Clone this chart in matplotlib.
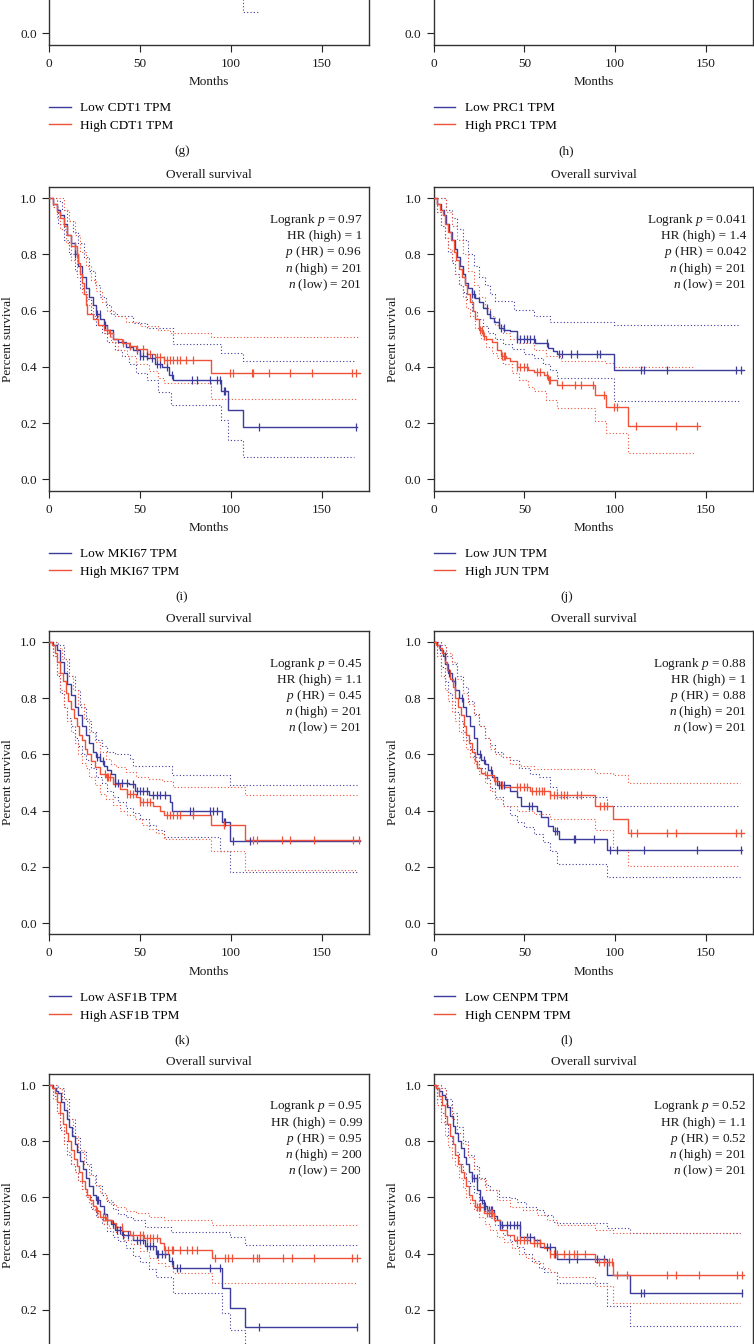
import numpy as np
import matplotlib
matplotlib.use("Agg")
import matplotlib.pyplot as plt
from matplotlib.lines import Line2D

plt.rcParams["font.family"] = ["Liberation Serif", "DejaVu Serif"]
plt.rcParams["mathtext.fontset"] = "custom"
plt.rcParams["mathtext.rm"] = "Liberation Serif"
plt.rcParams["mathtext.it"] = "Liberation Serif:italic"

BLUE = "#3d3b9b"
RED = "#ef5238"
FS = 9.5

# ---------------- data ----------------
genes = {"g": "CDT1", "h": "PRC1", "i": "MKI67", "j": "JUN", "k": "ASF1B", "l": "CENPM"}

# panel (g) - only the tail of the low-group lower CI is visible
g_low_lo_t = [98, 107, 116]
g_low_lo_s = [0.14, 0.075, 0.075]

# panel (i) MKI67
i_stats = ["0.97", "1", "0.96", "201", "201"]
i_low_t = [0, 2, 4, 6, 8, 10, 12, 14, 16, 18, 20, 22, 24, 26, 28, 30, 32, 35, 38, 42, 46, 50, 54, 58, 62, 66, 68, 94.5, 98.7, 107, 169.5]
i_low_s = [1.0, .98, .96, .94, .91, .87, .84, .80, .76, .72, .68, .65, .62, .59, .57, .55, .53, .50, .49, .47, .46, .44, .43, .41, .40, .37, .355, .313, .248, .186, .186]
i_high_t = [0, 2, 4, 6, 8, 10, 12, 15, 16, 17, 18, 19, 20, 21, 24, 27, 30, 33, 35, 40, 44, 48, 54, 58, 63, 89, 171]
i_high_s = [1.0, .98, .95, .93, .90, .87, .83, .80, .77, .73, .70, .66, .62, .59, .57, .55, .53, .52, .50, .485, .475, .465, .445, .435, .425, .38, .38]
i_low_cens = [14.2, 26.1, 27.9, 30.7, 48.2, 50, 51.8, 53.7, 56.4, 59.2, 61, 64.7, 67.5, 78.5, 81.3, 88.6, 92.3, 94.1, 96.3, 97, 115.3, 169.1]
i_high_cens = [14.2, 15.5, 31.6, 33.5, 40.8, 44.5, 48.2, 51.8, 55.5, 59.2, 61, 63, 64.7, 66.5, 68.4, 70.2, 72, 75.6, 79.4, 99.6, 101.5, 111.5, 112.5, 121.3, 132.7, 145, 166.7, 169.1]
i_low_up_t = [0, 4, 7, 10, 13, 16, 19, 22, 25, 28, 31, 34, 38, 46, 54, 68, 94.5, 107, 168]
i_low_up_s = [1.0, .99, .96, .92, .88, .84, .79, .74, .69, .65, .62, .59, .58, .555, .538, .48, .45, .42, .42]
i_low_lo_t = [0, 2, 5, 8, 11, 14, 17, 20, 23, 26, 29, 32, 36, 40, 44, 48, 54, 60, 67, 94.5, 98.7, 107, 168]
i_low_lo_s = [1.0, .97, .91, .85, .80, .74, .68, .64, .59, .55, .52, .49, .46, .44, .41, .38, .355, .31, .265, .21, .14, .08, .08]
i_high_up_t = [0, 4, 8, 11, 14, 17, 20, 23, 26, 29, 32, 36, 42, 50, 60, 66.5, 89, 170]
i_high_up_s = [1.0, 1.0, .96, .92, .87, .81, .76, .71, .67, .63, .60, .58, .56, .545, .53, .52, .507, .507]
i_high_lo_t = [0, 2, 4, 6, 9, 12, 15, 18, 21, 24, 27, 30, 34, 38, 43, 48, 55, 60, 63, 89, 170]
i_high_lo_s = [1.0, .97, .93, .89, .84, .78, .72, .66, .62, .58, .55, .52, .49, .46, .44, .41, .385, .36, .343, .287, .287]

# panel (j) JUN
j_stats = ["0.041", "1.4", "0.042", "201", "201"]
j_low_t = [0, 2, 4, 5.5, 7, 8.5, 10, 11.5, 13, 14.5, 16, 17.5, 19, 21, 23, 25, 27, 29.5, 31, 33, 36, 39, 42, 46, 56, 63, 66, 68, 99.3, 171]
j_low_s = [1.0, .98, .96, .94, .91, .88, .85, .82, .79, .76, .73, .70, .68, .66, .645, .63, .61, .59, .575, .56, .54, .53, .526, .50, .485, .467, .455, .445, .39, .39]
j_high_t = [0, 2, 3.5, 5, 6.5, 8, 9.5, 11, 12.5, 14, 15.5, 17, 18.5, 20, 21.5, 23, 25, 27, 29, 32, 35, 37, 40, 42, 46, 52, 55, 61, 63, 68, 89, 95, 107, 147]
j_high_s = [1.0, .98, .96, .94, .91, .88, .85, .81, .78, .75, .72, .69, .66, .63, .60, .57, .53, .51, .50, .49, .46, .44, .43, .42, .40, .39, .383, .37, .355, .337, .30, .257, .19, .19]
j_low_cens = [21.1, 22.4, 29.4, 30.9, 35.8, 37.1, 38.6, 46, 47.8, 49.6, 51.5, 53.3, 55.1, 62.5, 68.9, 70.8, 75.4, 79, 90, 91.9, 114, 115.8, 128.3, 166.4, 169.1]
j_high_cens = [25.7, 26.6, 27.6, 37.7, 38.6, 39.5, 46, 47.8, 49.6, 51.5, 57, 58.8, 62.5, 63.4, 64.3, 70.8, 78.1, 80.9, 87.9, 93.8, 99.3, 101, 111.2, 133.3, 145.2]
j_low_up_t = [0, 4, 7, 10, 13, 16, 19, 22, 25, 28, 31, 34, 44.5, 55, 64, 99.3, 169]
j_low_up_s = [1.0, 1.0, .96, .93, .89, .85, .80, .76, .72, .69, .66, .633, .603, .58, .56, .55, .55]
j_low_lo_t = [0, 2, 4, 6, 8, 10, 12, 14, 16, 18, 21, 24, 27, 30, 34, 38, 43, 50, 55, 60, 64, 68, 99.3, 169]
j_low_lo_s = [1.0, .95, .90, .86, .81, .77, .73, .69, .665, .64, .60, .57, .545, .52, .50, .48, .465, .445, .43, .41, .39, .36, .277, .277]
j_high_up_t = [0, 4, 7, 10, 13, 16, 19, 22, 25, 28, 31, 34, 38, 42, 46, 55, 62, 70, 95, 99.3, 144]
j_high_up_s = [1.0, 1.0, .95, .90, .85, .80, .74, .69, .65, .61, .58, .55, .52, .50, .485, .46, .44, .42, .413, .40, .40]
j_high_lo_t = [0, 2, 4, 6, 8, 10, 12, 14, 16, 18, 20, 23, 26, 29, 32, 35, 38, 43, 47, 52, 55, 62, 68, 89, 95, 107, 144]
j_high_lo_s = [1.0, .95, .90, .86, .82, .78, .73, .69, .65, .61, .58, .54, .50, .47, .45, .43, .41, .38, .355, .33, .313, .283, .254, .206, .164, .093, .093]

# panel (k) ASF1B
k_stats = ["0.45", "1.1", "0.45", "201", "201"]
k_low_t = [0, 2, 4, 6, 8, 10, 12, 14, 16, 18, 20, 22, 24, 26, 28, 30, 32, 34, 36, 44, 47, 55, 66.5, 67.5, 95, 99.3, 171]
k_low_s = [1.0, .99, .97, .93, .89, .85, .81, .77, .74, .70, .67, .64, .61, .59, .575, .56, .545, .53, .50, .495, .47, .454, .43, .40, .358, .293, .293]
k_high_t = [0, 1.5, 3, 4.5, 6, 7.5, 9, 10.5, 12, 13.5, 15, 16.5, 18, 19.5, 21, 23, 25, 28, 31, 35, 39, 42.6, 48, 50, 57, 61, 63, 89, 108, 171]
k_high_s = [1.0, .99, .96, .93, .89, .86, .82, .79, .76, .73, .70, .67, .65, .62, .60, .575, .555, .53, .52, .495, .477, .46, .448, .43, .418, .40, .386, .35, .295, .295]
k_low_cens = [26.1, 27.9, 29.8, 36.2, 38, 39.9, 42.6, 46.3, 48.2, 50, 51.8, 53.7, 57.4, 59.2, 61, 63.8, 77.6, 79.4, 88.6, 90.4, 92.3, 96, 96.9, 101.5, 110.7]
k_high_cens = [30.7, 31.6, 32.5, 33.5, 42.6, 44.5, 46.3, 50, 51.8, 53.7, 55.5, 64.7, 66.5, 68.4, 70.2, 72, 79.4, 96, 112.5, 114.3, 128.1, 132.7, 145.6, 167.6, 170.4]
k_low_up_t = [0, 5, 8, 11, 14, 17, 20, 23, 26, 29, 32, 36, 44.5, 46.3, 67.5, 99.3, 169.5]
k_low_up_s = [1.0, .99, .94, .88, .83, .77, .72, .68, .65, .63, .61, .60, .585, .56, .525, .49, .49]
k_low_lo_t = [0, 2, 4, 6, 8, 10, 12, 14, 16, 18, 20, 23, 26, 29, 32, 35, 38, 42, 46, 50, 55, 59, 63, 94, 99.3, 169.5]
k_low_lo_s = [1.0, .95, .88, .82, .77, .73, .70, .66, .63, .60, .58, .55, .52, .50, .47, .45, .43, .41, .39, .37, .35, .33, .305, .257, .18, .18]
k_high_up_t = [0, 4, 7, 10, 13, 16, 19, 22, 25, 28, 31, 34, 37, 42, 48, 55, 62, 68, 108, 169.5]
k_high_up_s = [1.0, .98, .94, .88, .83, .78, .73, .68, .645, .61, .585, .565, .555, .537, .52, .513, .507, .483, .457, .457]
k_high_lo_t = [0, 2, 4, 6, 8, 10, 12, 14, 16, 18, 20, 22, 25, 28, 31, 35, 39, 43, 47, 51, 55, 59, 63, 89, 108, 169.5]
k_high_lo_s = [1.0, .95, .89, .83, .77, .72, .68, .64, .60, .57, .55, .52, .49, .46, .44, .42, .40, .385, .37, .35, .335, .32, .30, .257, .19, .19]

# panel (l) CENPM
l_stats = ["0.88", "1", "0.88", "201", "201"]
l_low_t = [0, 2, 3.5, 5, 6.5, 8, 10, 12, 14, 16, 18, 20, 22, 24, 26, 28, 30, 32, 35, 42, 46, 48, 57, 59, 63, 66, 69, 95.5, 170]
l_low_s = [1.0, .99, .97, .95, .92, .89, .86, .83, .80, .77, .735, .70, .66, .60, .58, .565, .545, .52, .49, .47, .448, .418, .40, .376, .346, .329, .30, .26, .26]
l_high_t = [0, 1.5, 3, 4.5, 6, 7.5, 9, 10.5, 12, 13.5, 15, 16.5, 18, 19.5, 21, 22.5, 24, 26, 28, 33, 36, 38.6, 53, 64, 89, 99, 107, 171]
l_high_s = [1.0, .99, .98, .96, .93, .90, .87, .84, .80, .77, .74, .70, .67, .64, .61, .575, .55, .535, .525, .507, .49, .483, .47, .454, .418, .37, .319, .319]
l_low_cens = [6.4, 8.3, 11.9, 15.6, 25.7, 27.6, 31.3, 35.8, 37.1, 38.6, 52.4, 54.2, 67.1, 68, 77.2, 78.1, 88.2, 97.4, 101.1, 115.8, 145.2, 169.1]
l_high_cens = [29.4, 34, 37.7, 46, 47.8, 49.6, 51.5, 54.2, 56.1, 57.9, 59.7, 60.7, 64.3, 66.2, 68, 69.9, 71.7, 73.5, 79, 80.9, 91.9, 93.8, 95.6, 108.5, 112.1, 128.7, 133.3, 166.4, 169.1]
l_low_up_t = [0, 4, 7, 10, 13, 16, 19, 22, 25, 28, 31, 34, 38, 42, 47, 53, 58, 64, 68, 95.5, 169]
l_low_up_s = [1.0, .99, .95, .92, .88, .84, .79, .745, .70, .66, .635, .61, .59, .58, .55, .53, .52, .483, .448, .415, .415]
l_low_lo_t = [0, 2, 4, 6, 8, 10, 12, 14, 16, 18, 20, 22, 25, 28, 31, 34, 38, 42, 46, 50, 55, 60, 64, 68, 95.5, 169]
l_low_lo_s = [1.0, .96, .91, .86, .82, .79, .75, .72, .68, .65, .62, .59, .55, .515, .48, .45, .415, .385, .36, .34, .315, .29, .257, .21, .162, .162]
l_high_up_t = [0, 4, 7, 10, 13, 16, 19, 22, 25, 28, 31, 34, 37, 42, 48, 55, 89, 99, 107, 169]
l_high_up_s = [1.0, .99, .96, .93, .87, .82, .78, .74, .70, .66, .62, .60, .59, .567, .56, .549, .535, .525, .50, .50]
l_high_lo_t = [0, 2, 4, 6, 8, 10, 12, 14, 16, 18, 20, 22, 25, 28, 31, 34, 38, 46, 55, 64, 89, 99, 107, 169]
l_high_lo_s = [1.0, .95, .88, .83, .79, .75, .72, .68, .65, .62, .59, .565, .53, .50, .47, .44, .415, .40, .388, .37, .33, .26, .204, .204]

# panel (m)
m_stats = ["0.95", "0.99", "0.95", "200", "200"]
m_low_t = [0, 2, 3.5, 5, 6.5, 8, 9.5, 11, 12.5, 14, 15.5, 17, 18.5, 20, 22, 24, 26, 28, 30, 32, 34, 36, 40, 46, 53, 59, 66, 68.4, 95, 99.3, 108, 169.5]
m_low_s = [1.0, .99, .98, .97, .94, .91, .88, .85, .82, .79, .76, .73, .70, .67, .64, .61, .59, .57, .54, .52, .505, .484, .467, .45, .426, .40, .372, .348, .277, .208, .138, .138]
m_high_t = [0, 1.5, 3, 4.5, 6, 7.5, 9, 10.5, 12, 13.5, 15, 16.5, 18, 19.5, 21, 22.5, 24, 26, 28, 31, 34.4, 37, 40, 44.5, 52, 61, 63, 89.5, 171]
m_high_s = [1.0, .99, .97, .94, .90, .86, .83, .80, .77, .735, .71, .69, .66, .63, .61, .59, .57, .55, .53, .52, .508, .496, .48, .467, .455, .437, .413, .384, .384]
m_low_cens = [26.1, 27, 35.3, 37.1, 39, 40.8, 43.6, 48.2, 50, 51.8, 53.7, 55.5, 57.4, 59.2, 60.1, 61.9, 63.8, 67.5, 70.2, 72, 88.6, 94.1, 115.3, 169.5]
m_high_cens = [26.1, 29.8, 30.7, 31.6, 39.9, 46.3, 50, 51.8, 53.7, 55.5, 57.4, 59.2, 63.8, 65.6, 67.5, 68.4, 72, 75.7, 78.5, 81.3, 91.4, 96.9, 98.7, 100.5, 112.5, 114.3, 115.3, 129, 133.6, 145.6, 166.7, 169.5]
m_low_up_t = [0, 5, 8, 11, 14, 17, 20, 23, 26, 29, 32, 35, 38, 42, 46, 53, 67, 99.3, 108, 169.5]
m_low_up_s = [1.0, .99, .95, .88, .81, .76, .72, .68, .64, .61, .585, .56, .54, .532, .52, .496, .478, .46, .43, .43]
m_low_lo_t = [0, 2, 4, 6, 8, 10, 12, 14, 16, 18, 20, 23, 26, 29, 32, 35, 38, 42, 46, 50, 55, 59, 68.4, 95, 99.3, 108, 169.5]
m_low_lo_s = [1.0, .96, .90, .84, .80, .75, .72, .69, .66, .63, .60, .56, .53, .505, .48, .46, .445, .42, .39, .37, .345, .318, .259, .188, .129, .06, .06]
m_high_up_t = [0, 4, 7, 10, 13, 16, 19, 22, 25, 28, 31, 34, 37, 42, 48, 55, 63, 89.5, 169.5]
m_high_up_s = [1.0, .99, .95, .88, .82, .77, .72, .68, .645, .615, .59, .575, .567, .55, .543, .532, .52, .50, .50]
m_high_lo_t = [0, 2, 4, 6, 8, 10, 12, 14, 16, 18, 20, 22, 24, 27, 30, 33, 37, 41, 45, 50, 55, 60, 64, 68, 89.5, 169.5]
m_high_lo_s = [1.0, .95, .90, .85, .79, .76, .72, .69, .66, .63, .60, .58, .555, .53, .505, .49, .47, .45, .435, .41, .385, .365, .355, .33, .297, .297]

# panel (n)
n_stats = ["0.52", "1.1", "0.52", "201", "201"]
n_low_t = [0, 1.5, 3, 4.5, 6, 7.5, 9, 10.5, 12, 13.5, 15, 16.5, 18, 19.5, 21, 24, 25.7, 27.5, 29.4, 33, 35, 36.8, 47.8, 55, 58.8, 67, 68, 95.6, 108, 170]
n_low_s = [1.0, .99, .98, .965, .95, .92, .89, .855, .83, .80, .775, .745, .72, .69, .668, .626, .59, .57, .555, .535, .52, .50, .46, .449, .425, .40, .38, .324, .26, .26]
n_high_t = [0, 1.5, 3, 4.5, 6, 7.5, 9, 10.5, 12, 13.5, 15, 16.5, 18, 19.5, 21, 23, 27.6, 33, 36.8, 40.4, 44, 53.3, 60.7, 64.3, 89, 99, 171]
n_high_s = [1.0, .99, .96, .93, .89, .86, .82, .79, .75, .72, .69, .67, .64, .61, .59, .567, .543, .52, .484, .467, .449, .437, .42, .40, .37, .324, .324]
n_low_cens = [21.1, 22.4, 23.9, 26.7, 27.6, 28.5, 30.3, 31.3, 32.2, 36.8, 37.7, 40.4, 42.3, 44.1, 46, 47.5, 51.5, 53.3, 55.1, 62.5, 64.3, 67.1, 74.4, 79, 90, 93.8, 114, 115.8, 170]
n_high_cens = [23.9, 24.8, 25.7, 29.4, 30.3, 31.3, 32.2, 46, 47.8, 49.6, 51.5, 55.1, 57, 58.8, 64.3, 66.2, 68, 71.7, 74.4, 77.2, 79, 83.6, 91, 93.8, 96.5, 98.3, 101.1, 106.6, 128.7, 133.3, 146.1, 167.3, 170]
n_low_up_t = [0, 4, 7, 10, 13, 16, 19, 22, 25, 28, 31, 36, 42, 46, 51, 57, 60.7, 66, 68, 95.6, 108, 169]
n_low_up_s = [1.0, .99, .95, .90, .85, .80, .75, .71, .67, .645, .626, .603, .597, .585, .567, .555, .538, .514, .508, .49, .475, .475]
n_low_lo_t = [0, 2, 4, 6, 8, 10, 12, 14, 16, 18, 20, 22, 25, 28, 31, 34, 38, 42, 46, 50, 54, 58, 61, 68, 95.6, 108, 169]
n_low_lo_s = [1.0, .95, .90, .86, .82, .79, .76, .72, .69, .66, .64, .614, .58, .55, .525, .50, .465, .445, .425, .40, .375, .35, .336, .295, .212, .144, .144]
n_high_up_t = [0, 4, 7, 10, 13, 16, 19, 22, 25, 29, 35, 42, 49, 57, 62.5, 68, 89, 99, 169]
n_high_up_s = [1.0, .99, .93, .88, .83, .79, .745, .70, .665, .626, .59, .567, .555, .537, .52, .50, .484, .473, .473]
n_high_lo_t = [0, 2, 4, 6, 8, 10, 12, 14, 16, 18, 20, 22, 25, 28, 31, 35, 39, 43, 47, 51, 55, 60, 64, 68, 89, 99, 169]
n_high_lo_s = [1.0, .93, .87, .82, .78, .74, .71, .67, .635, .60, .58, .555, .53, .505, .485, .46, .44, .42, .40, .385, .365, .35, .336, .318, .283, .224, .224]

x_ticks = [0, 50, 100, 150]
y_ticks = [0.0, 0.2, 0.4, 0.6, 0.8, 1.0]

# ---------------- layout ----------------
W, H = 754, 1344
fig = plt.figure(figsize=(W / 100, H / 100), dpi=100)

PPU = 281.0                 # pixels per survival unit
AX_H = 1.08 * PPU
AX_W = 319.4
COL_LEFT = {"L": 49.3, "R": 433.7}
ROW_Y1 = {0: -247.7, 1: 198.3, 2: 642.0, 3: 1085.0}   # pixel row of survival = 1.0
TXT = "#1a1a1a"


def make_axes(col, row):
    top = ROW_Y1[row] - 0.04 * PPU
    bottom = top + AX_H
    return fig.add_axes([COL_LEFT[col] / W, 1 - bottom / H, AX_W / W, AX_H / H])


def at(t, s, c):
    t = np.asarray(t); s = np.asarray(s)
    idx = np.clip(np.searchsorted(t, c, side="right") - 1, 0, len(s) - 1)
    return s[idx]


def draw_km(ax, t, s, color, cens=None):
    ax.plot(t, s, drawstyle="steps-post", color=color, lw=1.0, zorder=3)
    if cens is not None:
        ax.plot(cens, at(t, s, cens), ls="none", marker="|", ms=5.5, mew=0.9,
                color=color, zorder=4)


def draw_ci(ax, t, s, color):
    ax.plot(t, s, drawstyle="steps-post", color=color, lw=0.8,
            ls=(0, (1, 2)), zorder=2)


def style(ax, top_part=True, bottom_part=True, yt=y_ticks):
    ax.set_xlim(0, 176)
    ax.set_ylim(-0.04, 1.04)
    ax.set_xticks(x_ticks)
    ax.set_yticks(yt)
    ax.set_yticklabels([f"{v:.1f}" for v in yt])
    ax.tick_params(direction="out", length=5, width=0.8, labelsize=FS,
                   color="#222222", labelcolor=TXT)
    ax.tick_params(axis="x", pad=4.5, labelbottom=bottom_part)
    ax.tick_params(axis="y", pad=4)
    for sp in ax.spines.values():
        sp.set_linewidth(1.0)
        sp.set_color("#333333")
    if top_part:
        ax.text(0.5, 1 + 12 / AX_H, "Overall survival", transform=ax.transAxes,
                ha="center", va="center", fontsize=FS, color=TXT)
        ax.set_ylabel("Percent survival", fontsize=FS, va="center", color=TXT)
        ax.yaxis.set_label_coords(-41 / AX_W, 0.5)


def bottom_decor(ax, gene, label):
    ax.set_xlabel("Months", fontsize=FS, va="center", color=TXT)
    ax.xaxis.set_label_coords(0.5, -37.5 / AX_H)
    handles = [Line2D([], [], color=BLUE, lw=1.0), Line2D([], [], color=RED, lw=1.0)]
    ax.legend(handles, [f"Low {gene} TPM", f"High {gene} TPM"], loc="upper left",
              bbox_to_anchor=(0, -57.5 / AX_H), frameon=False, fontsize=FS,
              handlelength=1.65, handletextpad=0.7, labelspacing=0.42,
              borderpad=0, borderaxespad=0)
    ax.text(0.415, -106.5 / AX_H, label, transform=ax.transAxes, ha="center",
            va="center", fontsize=FS, color=TXT)


def stats_box(ax, st):
    lines = [f"Logrank $p$ = {st[0]}", f"HR (high) = {st[1]}", f"$p$ (HR) = {st[2]}",
             f"$n$ (high) = {st[3]}", f"$n$ (low) = {st[4]}"]
    for k, line in enumerate(lines):
        ax.text(172.5, 1 - (24.5 + 16.3 * k) / PPU, line, ha="right",
                va="baseline", fontsize=FS, color=TXT)


# top partial row (g), (h)
ax_g = make_axes("L", 0)
style(ax_g, top_part=False, yt=[0.0])
draw_ci(ax_g, g_low_lo_t, g_low_lo_s, BLUE)
bottom_decor(ax_g, genes["g"], "(g)")

ax_h = make_axes("R", 0)
style(ax_h, top_part=False, yt=[0.0])
bottom_decor(ax_h, genes["h"], "(h)")

full_panels = [
    ("L", 1, "i", i_stats, (i_low_t, i_low_s, i_low_cens), (i_high_t, i_high_s, i_high_cens),
     [(i_low_up_t, i_low_up_s), (i_low_lo_t, i_low_lo_s)], [(i_high_up_t, i_high_up_s), (i_high_lo_t, i_high_lo_s)]),
    ("R", 1, "j", j_stats, (j_low_t, j_low_s, j_low_cens), (j_high_t, j_high_s, j_high_cens),
     [(j_low_up_t, j_low_up_s), (j_low_lo_t, j_low_lo_s)], [(j_high_up_t, j_high_up_s), (j_high_lo_t, j_high_lo_s)]),
    ("L", 2, "k", k_stats, (k_low_t, k_low_s, k_low_cens), (k_high_t, k_high_s, k_high_cens),
     [(k_low_up_t, k_low_up_s), (k_low_lo_t, k_low_lo_s)], [(k_high_up_t, k_high_up_s), (k_high_lo_t, k_high_lo_s)]),
    ("R", 2, "l", l_stats, (l_low_t, l_low_s, l_low_cens), (l_high_t, l_high_s, l_high_cens),
     [(l_low_up_t, l_low_up_s), (l_low_lo_t, l_low_lo_s)], [(l_high_up_t, l_high_up_s), (l_high_lo_t, l_high_lo_s)]),
    ("L", 3, "m", m_stats, (m_low_t, m_low_s, m_low_cens), (m_high_t, m_high_s, m_high_cens),
     [(m_low_up_t, m_low_up_s), (m_low_lo_t, m_low_lo_s)], [(m_high_up_t, m_high_up_s), (m_high_lo_t, m_high_lo_s)]),
    ("R", 3, "n", n_stats, (n_low_t, n_low_s, n_low_cens), (n_high_t, n_high_s, n_high_cens),
     [(n_low_up_t, n_low_up_s), (n_low_lo_t, n_low_lo_s)], [(n_high_up_t, n_high_up_s), (n_high_lo_t, n_high_lo_s)]),
]

for col, row, key, st, low, high, low_ci, high_ci in full_panels:
    ax = make_axes(col, row)
    last_row = row == 3
    style(ax, top_part=True, bottom_part=not last_row,
          yt=y_ticks[1:] if last_row else y_ticks)
    for t, s in low_ci:
        draw_ci(ax, t, s, BLUE)
    for t, s in high_ci:
        draw_ci(ax, t, s, RED)
    draw_km(ax, low[0], low[1], BLUE, low[2])
    draw_km(ax, high[0], high[1], RED, high[2])
    stats_box(ax, st)
    if not last_row:
        bottom_decor(ax, genes[key], f"({key})")

fig.savefig("out.png", dpi=100, facecolor="white")
